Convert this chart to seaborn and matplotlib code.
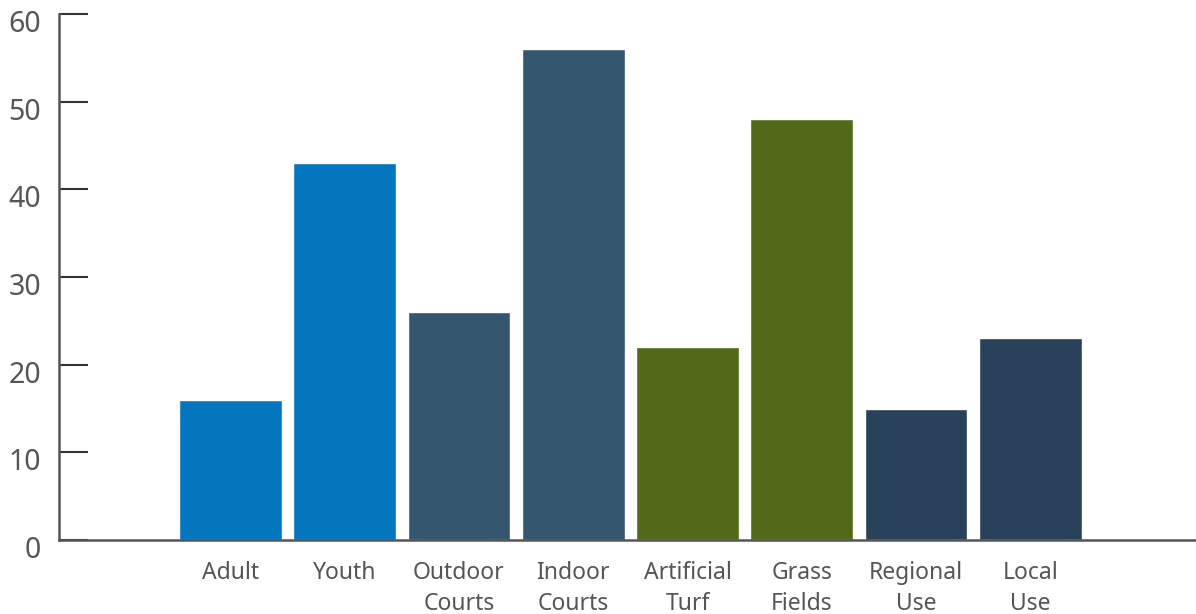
import matplotlib
matplotlib.use("Agg")
import matplotlib.pyplot as plt
import matplotlib.transforms as mtransforms
import seaborn as sns
import pandas as pd

# Werte
categories = ["Adult", "Youth", "Outdoor\nCourts", "Indoor\nCourts", "Artificial\nTurf",
              "Grass\nFields", "Regional\nUse", "Local\nUse"]
values = [16, 43, 26, 56, 22, 48, 15, 23]
bar_colors = ["#0376bd", "#0376bd", "#34566f", "#34566f",
              "#516a1a", "#516a1a", "#294159", "#294159"]
y_ticks = [0, 10, 20, 30, 40, 50, 60]

df = pd.DataFrame({"category": categories, "value": values})

sns.set_style("white")
plt.rcParams["font.family"] = ["Noto Sans", "DejaVu Sans"]

fig = plt.figure(figsize=(11.96, 6.14), dpi=100)
ax = fig.add_axes([59 / 1196, 74 / 614, 1 - 59 / 1196, (540 - 14) / 614])

sns.barplot(data=df, x="category", y="value", hue="category", order=categories,
            palette=dict(zip(categories, bar_colors)), width=0.9, saturation=1,
            legend=False, ax=ax)

ax.set_xlim(-1.5, 8.45)
ax.set_ylim(0, 60)
ax.set_yticks(y_ticks)
ax.set_xlabel("")
ax.set_ylabel("")

for side in ["top", "right"]:
    ax.spines[side].set_visible(False)
for side in ["left", "bottom"]:
    ax.spines[side].set_color("#555555")
    ax.spines[side].set_linewidth(1.8)

ax.tick_params(axis="y", left=True, direction="in", length=21, width=1.5, color="#333333",
               labelsize=20.5, labelcolor="#555555", pad=13)
ax.tick_params(axis="x", bottom=False, length=0, labelsize=16.5, labelcolor="#555555", pad=15)

for lab in ax.get_xticklabels():
    lab.set_linespacing(1.4)

# Y-Beschriftungen etwas nach unten versetzt wie im Original
offset = mtransforms.ScaledTranslation(0, -0.07, fig.dpi_scale_trans)
for lab in ax.get_yticklabels():
    lab.set_transform(lab.get_transform() + offset)

fig.savefig("out.png", dpi=100)
